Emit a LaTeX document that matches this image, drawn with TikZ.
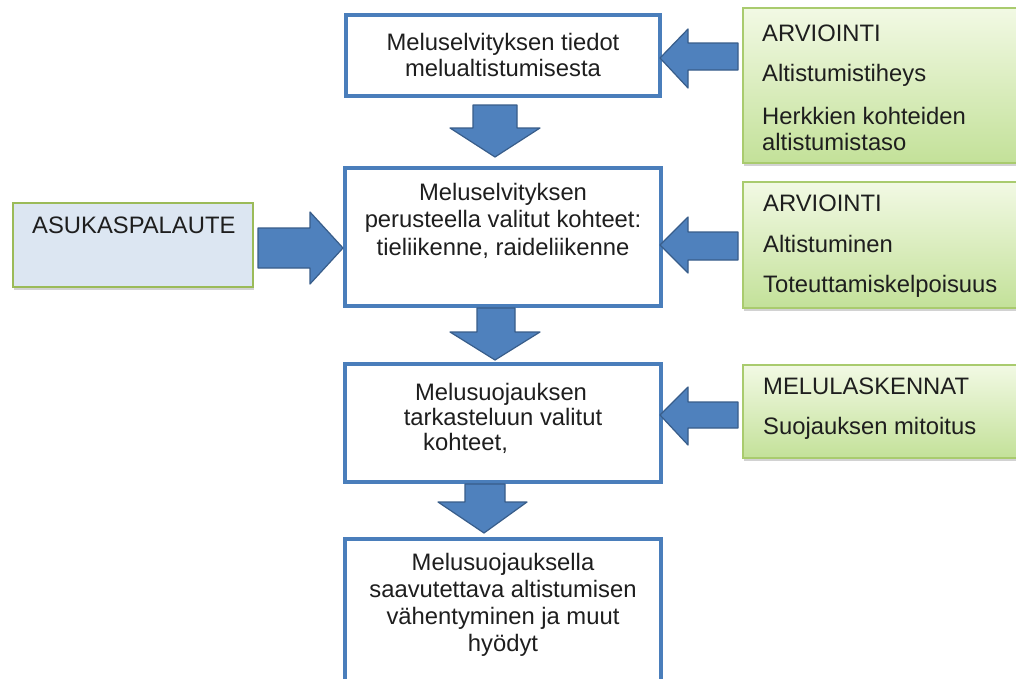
\documentclass[tikz,border=0pt]{standalone}
\usepackage{fontspec}
\setmainfont{Liberation Sans}
\usetikzlibrary{shadows,fit}
\definecolor{boxblue}{HTML}{4A7EBB}
\definecolor{arrowblue}{HTML}{4F81BD}
\definecolor{arrowedge}{HTML}{385D8A}
\definecolor{greenedge}{HTML}{A9CB6E}
\definecolor{greentop}{HTML}{F2F9E4}
\definecolor{greenbot}{HTML}{C3E199}
\definecolor{asufill}{HTML}{DCE6F2}
\definecolor{asuedge}{HTML}{9BBB59}
\definecolor{txt}{HTML}{1E1E1E}
\begin{document}
\begin{tikzpicture}[x=1pt,y=-1pt,
  txtfont/.style={font=\fontsize{23.8}{26}\selectfont, text=txt, inner sep=0pt},
  flowbox/.style={draw=boxblue, line width=3.4pt, fill=white, inner sep=0pt},
  greenbox/.style={draw=greenedge, line width=1.6pt, top color=greentop, bottom color=greenbot, inner sep=0pt,
    drop shadow={opacity=0.35, shadow xshift=1pt, shadow yshift=-3pt}},
  asubox/.style={draw=asuedge, line width=1.6pt, fill=asufill, inner sep=0pt,
    drop shadow={opacity=0.35, shadow xshift=1pt, shadow yshift=-3pt}},
  blockarrow/.style={fill=arrowblue, draw=arrowedge, line width=1.2pt, line join=round}]
\useasboundingbox (0,0) rectangle (1016,678);
\fill[white] (0,0) rectangle (1016,678);

% main flow boxes
\node[flowbox, fit={(346,15) (660,96)}] (b1) {};
\node[flowbox, fit={(345,168) (661,306)}] (b2) {};
\node[flowbox, fit={(345,364) (661,482)}] (b3) {};
\node[flowbox, fit={(345,539) (661,690)}] (b4) {};

% side boxes
\node[greenbox, fit={(743,8) (1030,163)}] (g1) {};
\node[greenbox, fit={(743,182) (1030,308)}] (g2) {};
\node[greenbox, fit={(743,365) (1030,458)}] (g3) {};
\node[asubox, fit={(13,203) (253,287)}] (asu) {};

% texts of main boxes
\node[txtfont, align=center, anchor=north] (t1) at (503,33) {Meluselvityksen tiedot\\melualtistumisesta};
\node[txtfont, align=center, anchor=north, font=\fontsize{23.8}{27.5}\selectfont] (t2) at (503,183) {Meluselvityksen\\perusteella valitut kohteet:\\tieliikenne, raideliikenne};
\node[txtfont, anchor=base] (t3a) at (501,400) {Melusuojauksen};
\node[txtfont, anchor=base] (t3b) at (503,425) {tarkasteluun valitut};
\node[txtfont, anchor=base west] (t3c) at (423,450) {kohteet,};
\node[txtfont, align=center, anchor=north, font=\fontsize{23.8}{27}\selectfont] (t4) at (503,553) {Melusuojauksella\\saavutettava altistumisen\\vähentyminen ja muut\\hyödyt};

% texts of side boxes
\node[txtfont, align=left, anchor=north west] (tg1) at (762,25) {ARVIOINTI\\[14pt]Altistumistiheys\\[17pt]Herkkien kohteiden\\altistumistaso};
\node[txtfont, align=left, anchor=north west] (tg2) at (763,195) {ARVIOINTI\\[15pt]Altistuminen\\[14pt]Toteuttamiskelpoisuus};
\node[txtfont, align=left, anchor=north west] (tg3) at (763,378) {MELULASKENNAT\\[14pt]Suojauksen mitoitus};
\node[txtfont, anchor=base west] (tasu) at (32,233) {ASUKASPALAUTE};

% down block arrows
\draw[blockarrow] (473,105) -- (517,105) -- (517,128) -- (540,128) -- (495,157) -- (450,128) -- (473,128) -- cycle;
\draw[blockarrow] (477,308) -- (515,308) -- (515,332) -- (540,332) -- (495,360) -- (450,332) -- (477,332) -- cycle;
\draw[blockarrow] (465,484) -- (505,484) -- (505,502) -- (527,502) -- (484,533) -- (438,502) -- (465,502) -- cycle;

% left block arrows
\draw[blockarrow] (738,43) -- (738,70) -- (688,70) -- (688,88) -- (660,58) -- (688,29) -- (688,43) -- cycle;
\draw[blockarrow] (738,232) -- (738,260) -- (688,260) -- (688,273) -- (660,245) -- (688,217) -- (688,232) -- cycle;
\draw[blockarrow] (738,402) -- (738,428) -- (688,428) -- (688,445) -- (660,415) -- (688,387) -- (688,402) -- cycle;

% right block arrow
\draw[blockarrow] (258,228) -- (310,228) -- (310,212) -- (343,248) -- (310,284) -- (310,268) -- (258,268) -- cycle;
\end{tikzpicture}
\end{document}
